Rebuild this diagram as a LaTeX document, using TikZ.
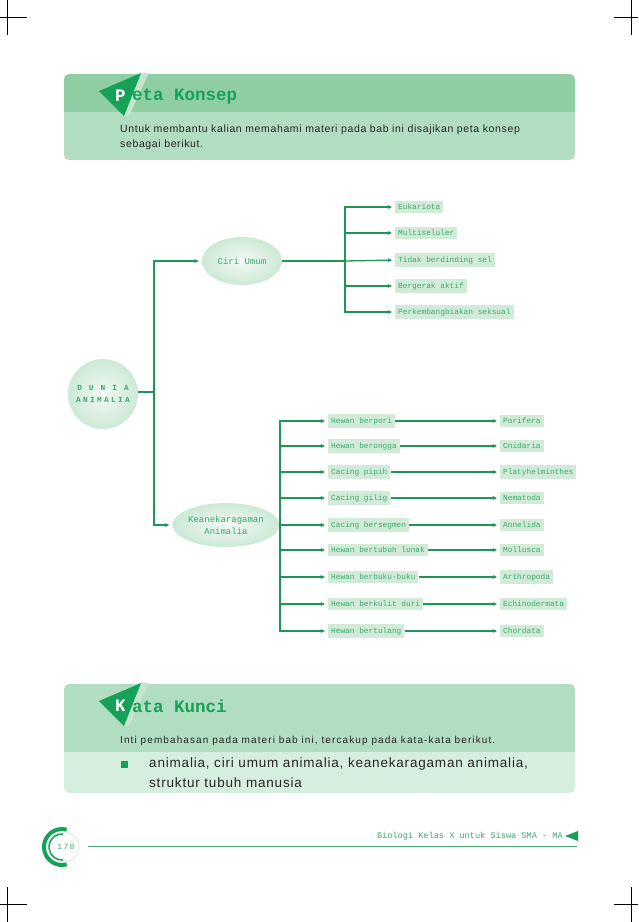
\documentclass[tikz,border=0pt]{standalone}
\usepackage{fontspec}
\setmainfont{Liberation Sans}
\setmonofont{Liberation Mono}
\newfontfamily\spacedmono[LetterSpace=30]{Liberation Mono}
\newfontfamily\widesans[LetterSpace=6]{Liberation Sans}
\newfontfamily\widersans[LetterSpace=11]{Liberation Sans}
\usetikzlibrary{arrows.meta,shapes.geometric}
\definecolor{hdrgreen}{HTML}{8FCEA3}
\definecolor{bodygreen}{HTML}{B1DDC1}
\definecolor{palegreen}{HTML}{D6EEDD}
\definecolor{boxfill}{HTML}{D2EBD9}
\definecolor{lngreen}{HTML}{1F9558}
\definecolor{txtgreen}{HTML}{3AAA6C}
\definecolor{trigreen}{HTML}{16A159}
\definecolor{stripgreen}{HTML}{C4E6CF}

\begin{document}
\begin{tikzpicture}[
    x=1pt, y=-1pt,
    lbl/.style={anchor=west, fill=boxfill, text=txtgreen, inner xsep=3pt, inner ysep=3pt,
        font=\ttfamily\fontsize{7.8}{9}\selectfont},
    ell/.style={ellipse, inner color=white!70!boxfill, outer color=boxfill!85!bodygreen,
        text=txtgreen, align=center, inner sep=0pt},
    ttl/.style={anchor=west, font=\ttfamily\bfseries\fontsize{17.5}{17.5}\selectfont, inner sep=0pt},
    ln/.style={draw=lngreen, line width=1.3pt},
    arr/.style={draw=lngreen, line width=1.3pt, shorten >=3pt, -{Stealth[length=4.5pt, width=4pt]}},
    crop/.style={draw=black, line width=0.6pt}
]
    \useasboundingbox (0,0) rectangle (638,922);

    \draw[crop] (7,0) -- (7,35);  \draw[crop] (0,17) -- (27,17);
    \draw[crop] (631,0) -- (631,35);  \draw[crop] (614,17) -- (638,17);
    \draw[crop] (7,887) -- (7,922);  \draw[crop] (0,904) -- (27,904);
    \draw[crop] (631,887) -- (631,922);  \draw[crop] (614,904) -- (638,904);

    \begin{scope}
        \clip[rounded corners=5pt] (64,74) rectangle (575,160);
        \fill[hdrgreen] (64,74) rectangle (575,112);
        \fill[bodygreen] (64,112) rectangle (575,160);
    \end{scope}
    \fill[stripgreen] (141,73) -- (149,73) -- (129,116) -- (124,116) -- cycle;
    \fill[trigreen] (99,91) -- (141,73) -- (124,116) -- cycle;
    \node[ttl, text=white] (pk-p) at (115,96) {P};
    \node[ttl, text=trigreen] (pk-t) at (132,96) {eta Konsep};
    \node[anchor=north west, align=left, inner sep=0pt,
        font=\widesans\fontsize{10.5}{15}\selectfont, text=black!85] (pk-body) at (120,125)
        {Untuk membantu kalian memahami materi pada bab ini disajikan peta konsep\\sebagai berikut.};

    \node[circle, minimum size=70pt, inner color=white!70!boxfill, outer color=boxfill!85!bodygreen,
        text=txtgreen, align=center, font=\spacedmono\bfseries\fontsize{7.8}{12}\selectfont] (dunia)
        at (103,394) {D U N I A\\ANIMALIA};
    \coordinate (jd) at (154,392);
    \node[ell, minimum width=80pt, minimum height=48pt, font=\ttfamily\fontsize{9}{10}\selectfont]
        (ciri) at (242,261) {Ciri Umum};
    \node[ell, minimum width=88pt, minimum height=44pt, font=\ttfamily\fontsize{9}{12}\selectfont]
        (keane) at (226,525) {Keanekaragaman\\Animalia};
    \draw[ln] (dunia.east |- jd) -- (jd);
    \draw[arr] (jd) |- (ciri);
    \draw[arr] (jd) |- (keane);

    \node[lbl] (c1) at (395,207) {Eukariota};
    \node[lbl] (c2) at (395,233) {Multiseluler};
    \node[lbl] (c3) at (395,260) {Tidak berdinding sel};
    \node[lbl] (c4) at (395,286) {Bergerak aktif};
    \node[lbl] (c5) at (395,312) {Perkembangbiakan seksual};
    \coordinate (jc) at (345,261);
    \draw[ln] (ciri) -- (jc);
    \draw[arr] (jc) |- (c1.west);
    \draw[arr] (jc) |- (c2.west);
    \draw[arr] (jc) -- (c3.west);
    \draw[arr] (jc) |- (c4.west);
    \draw[arr] (jc) |- (c5.west);

    \node[lbl] (h1) at (328,421) {Hewan berpori};
    \node[lbl] (h2) at (328,446) {Hewan berongga};
    \node[lbl] (h3) at (328,472) {Cacing pipih};
    \node[lbl] (h4) at (328,498) {Cacing gilig};
    \node[lbl] (h5) at (328,525) {Cacing bersegmen};
    \node[lbl] (h6) at (328,550) {Hewan bertubuh lunak};
    \node[lbl] (h7) at (328,577) {Hewan berbuku-buku};
    \node[lbl] (h8) at (328,604) {Hewan berkulit duri};
    \node[lbl] (h9) at (328,631) {Hewan bertulang};
    \node[lbl] (p1) at (500,421) {Porifera};
    \node[lbl] (p2) at (500,446) {Cnidaria};
    \node[lbl] (p3) at (500,472) {Platyhelminthes};
    \node[lbl] (p4) at (500,498) {Nematoda};
    \node[lbl] (p5) at (500,525) {Annelida};
    \node[lbl] (p6) at (500,550) {Mollusca};
    \node[lbl] (p7) at (500,577) {Arthropoda};
    \node[lbl] (p8) at (500,604) {Echinodermata};
    \node[lbl] (p9) at (500,631) {Chordata};
    \coordinate (jk) at (280,525);
    \draw[ln] (keane) -- (jk);
    \draw[arr] (jk) |- (h1.west);
    \draw[arr] (jk) |- (h2.west);
    \draw[arr] (jk) |- (h3.west);
    \draw[arr] (jk) |- (h4.west);
    \draw[arr] (jk) -- (h5.west);
    \draw[arr] (jk) |- (h6.west);
    \draw[arr] (jk) |- (h7.west);
    \draw[arr] (jk) |- (h8.west);
    \draw[arr] (jk) |- (h9.west);
    \draw[arr] (h1) -- (p1);
    \draw[arr] (h2) -- (p2);
    \draw[arr] (h3) -- (p3);
    \draw[arr] (h4) -- (p4);
    \draw[arr] (h5) -- (p5);
    \draw[arr] (h6) -- (p6);
    \draw[arr] (h7) -- (p7);
    \draw[arr] (h8) -- (p8);
    \draw[arr] (h9) -- (p9);

    \begin{scope}
        \clip[rounded corners=5pt] (64,684) rectangle (575,793);
        \fill[bodygreen] (64,684) rectangle (575,752);
        \fill[palegreen] (64,752) rectangle (575,793);
    \end{scope}
    \fill[stripgreen] (141,683) -- (149,683) -- (129,726) -- (124,726) -- cycle;
    \fill[trigreen] (99,701) -- (141,683) -- (124,726) -- cycle;
    \node[ttl, text=white] (kk-k) at (115,706) {K};
    \node[ttl, text=trigreen] (kk-t) at (132,706) {ata Kunci};
    \node[anchor=west, inner sep=0pt, font=\widersans\fontsize{10}{10}\selectfont, text=black!85]
        (kk-intro) at (120,741) {Inti pembahasan pada materi bab ini, tercakup pada kata-kata berikut.};
    \fill[trigreen] (121,761) rectangle (128,768);
    \node[anchor=north west, align=left, inner sep=0pt, font=\widesans\fontsize{13.5}{20}\selectfont,
        text=black!85] (kk-body) at (149,758)
        {animalia, ciri umum animalia, keanekaragaman animalia,\\struktur tubuh manusia};

    \draw[black!15, line width=0.6pt] (64,847) circle (15);
    \draw[trigreen, line width=4pt] (62,847) ++(75:18) arc (75:285:18);
    \draw[trigreen, line width=1.5pt] (62,847) ++(85:13) arc (85:275:13);
    \node[font=\ttfamily\fontsize{8}{8}\selectfont, text=txtgreen, inner sep=0pt] (pgnum) at (66,847) {1\,7\,8};
    \draw[lngreen!80, line width=0.8pt] (88,846) -- (577,846);
    \node[anchor=east, inner sep=0pt, font=\ttfamily\fontsize{8.6}{9}\selectfont, text=txtgreen]
        (foot) at (563,836) {Biologi Kelas X untuk Siswa SMA - MA};
    \fill[trigreen] (565,836) -- (578,831) -- (578,841) -- cycle;
\end{tikzpicture}
\end{document}
